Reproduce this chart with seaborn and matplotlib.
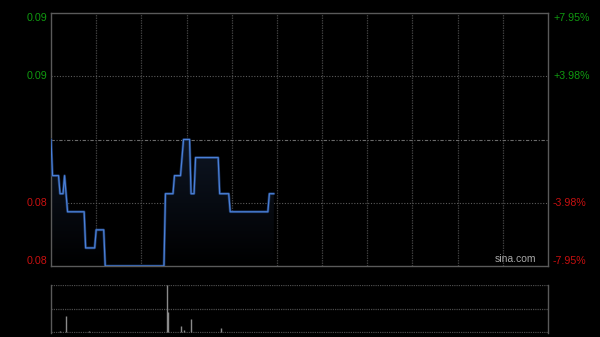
import numpy as np
import pandas as pd
import matplotlib
matplotlib.use("Agg")
import matplotlib.pyplot as plt
import seaborn as sns
from matplotlib.colors import LinearSegmentedColormap

# ---- data ----
prev_close = 0.088
run_prices = [0.088, 0.086, 0.085, 0.086, 0.085, 0.084, 0.082, 0.083, 0.081,
              0.085, 0.086, 0.087, 0.088, 0.085, 0.087, 0.085, 0.084, 0.085]
run_lengths = [1, 5, 3, 1, 1, 12, 7, 6, 40, 6, 5, 1, 5, 3, 16, 7, 26, 4]
vol_minutes = [6, 10, 25, 40, 60, 77, 78, 86, 88, 93, 100, 113, 130]
vol_values = [0.02, 0.35, 0.02, 0.01, 0.01, 1.0, 0.42, 0.13, 0.04, 0.28, 0.01, 0.08, 0.01]
price_levels = [0.095, 0.0915, 0.0845, 0.081]
price_labels = ["0.09", "0.09", "0.08", "0.08"]
pct_labels = ["+7.95%", "+3.98%", "-3.98%", "-7.95%"]
label_colors = ["#109a10", "#109a10", "#c81010", "#c81010"]
total_minutes = 330

prices = np.repeat(run_prices, run_lengths)
minutes = np.arange(len(prices))
df = pd.DataFrame({"minute": minutes, "price": prices})

sns.set_theme(style="dark")
plt.rcParams["font.family"] = ["Liberation Sans", "DejaVu Sans"]

fig = plt.figure(figsize=(6.0, 3.37), dpi=100, facecolor="black")
W, H = 600, 337
ax = fig.add_axes([51 / W, 1 - 266 / H, 497 / W, 253 / H])
axv = fig.add_axes([51 / W, 1 - 333 / H, 497 / W, 48 / H])
for a in (ax, axv):
    a.set_facecolor("black")
    a.grid(False)
    a.set_xticks([])
    a.set_yticks([])
    a.set_xlabel("")
    a.set_ylabel("")

ymin, ymax = 0.081, 0.095
ax.set_xlim(0, total_minutes)
ax.set_ylim(ymin, ymax)

# grid lines
for k in range(1, 11):
    ax.axvline(k * 30, color="#3c3c3c", lw=0.9, ls=(0, (1.2, 0.8)), zorder=1)
for lv in [0.0915, 0.0845]:
    ax.axhline(lv, color="#5a5a5a", lw=0.8, ls=(0, (1, 1.5)), zorder=1)
ax.axhline(prev_close, color="#6a6a6a", lw=0.8, ls=(0, (3, 1.5, 1, 1.5)), zorder=1)

# gradient fill under line
poly = ax.fill_between(df["minute"], df["price"], ymin, color="none", lw=0)
cmap = LinearSegmentedColormap.from_list("g", ["#000000", "#0e1624"])
grad = np.linspace(0, 1, 256).reshape(-1, 1)
im = ax.imshow(grad, cmap=cmap, aspect="auto", origin="lower",
               extent=[0, total_minutes, ymin, 0.088], zorder=2)
im.set_clip_path(poly.get_paths()[0], transform=ax.transData)
ax.set_xlim(0, total_minutes)
ax.set_ylim(ymin, ymax)

sns.lineplot(data=df, x="minute", y="price", ax=ax, color="#1c3560", linewidth=1.9, zorder=3)
sns.lineplot(data=df, x="minute", y="price", ax=ax, color="#4a80d8", linewidth=0.9, zorder=4)
ax.set_xlabel("")
ax.set_ylabel("")

for s in ax.spines.values():
    s.set_visible(True)
    s.set_color("#5a5a5a")
    s.set_linewidth(1.0)

# labels
for lv, pl, pc, col in zip(price_levels, price_labels, pct_labels, label_colors):
    va = "center"
    if lv == ymax:
        va = "top"
    elif lv == ymin:
        va = "bottom"
    ax.text(-0.008, lv, pl, color=col, fontsize=7.7, ha="right", va=va,
            transform=ax.get_yaxis_transform())
    ax.text(1.01, lv, pc, color=col, fontsize=7.7, ha="left", va=va,
            transform=ax.get_yaxis_transform())

ax.text(0.9765, 0.008, "sina.com", color="#a8a8a8", fontsize=7.5, ha="right",
        va="bottom", transform=ax.transAxes, zorder=5)

# volume panel
axv.set_xlim(0, total_minutes)
axv.set_ylim(-0.02, 1.0)
for lv in [0.0, 0.5, 1.0]:
    axv.axhline(lv, color="#4a4a4a", lw=0.9, ls=(0, (1, 0.8)), zorder=1)
axv.vlines(vol_minutes, 0, vol_values, color="#8a8a8a", lw=1.0, zorder=3)
for name, s in axv.spines.items():
    if name in ("left", "right"):
        s.set_visible(True)
        s.set_color("#5a5a5a")
        s.set_linewidth(1.0)
    else:
        s.set_visible(False)

fig.savefig("out.png", dpi=100, facecolor="black")
